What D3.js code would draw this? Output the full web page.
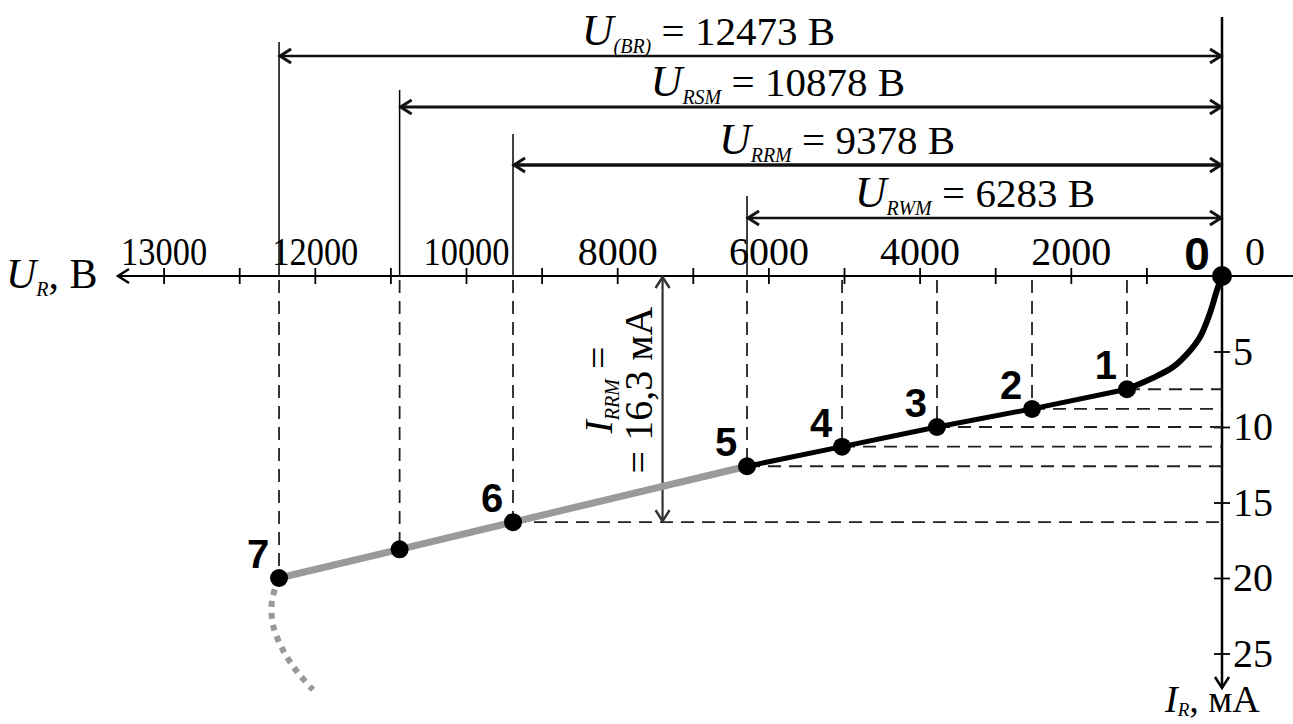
<!DOCTYPE html>
<html>
<head>
	<meta charset="utf-8">
	<title>ВАХ</title>
	<script src="https://d3js.org/d3.v7.min.js"></script>
	<style type="text/css">
		body{ margin: 0; background: #fff; }
	</style>
</head>
<body>
<script type="text/javascript">
	// characteristic points 0..7 (the one at 10878 V has no number)
	var pointU = [0, 1257, 2513, 3770, 5026, 6283, 9378, 10878, 12473]
	var pointI = [0, 7.5, 8.8, 10.0, 11.3, 12.6, 16.3, 18.1, 20.0]
	var pointNames = ["0", "1", "2", "3", "4", "5", "6", "", "7"]

	// knee from 0 to point 1
	var kneeU = [0, 66, 159, 291, 450, 648, 913, 1257]
	var kneeI = [0, 0.93, 2.45, 4.04, 5.1, 6.03, 6.75, 7.5]

	// dotted tail after point 7
	var tailU = [12473, 12566, 12553, 12421, 12235, 12024]
	var tailI = [20.0, 21.46, 23.1, 24.77, 26.2, 27.4]

	var xTicks = [1000,2000,3000,4000,5000,6000,7000,8000,9000,10000,11000,12000,13000,14000]
	var xLabelAt = [2000, 4000, 6000, 8000, 10000, 12000, 14000]
	var xLabels = ["2000", "4000", "6000", "8000", "10000", "12000", "13000"]
	var yTicks = [5, 10, 15, 20, 25]

	var dimNames = ["(BR)", "RSM", "RRM", "RWM"]
	var dimValues = [12473, 10878, 9378, 6283]
	var IRRM = 16.3

	var W = 1293, H = 724
	var x0 = 1222, y0 = 276
	var SERIF = '"Liberation Serif", "Times New Roman", Tinos, "DejaVu Serif", serif'
	var SANS = '"Liberation Sans", Arial, Arimo, sans-serif'

	var x = d3.scaleLinear().domain([0, 14000]).range([x0, x0 - 14 * 75.6])
	var y = d3.scaleLinear().domain([0, 25]).range([y0, y0 + 25 * 15.1])

	var svg = d3.select("body").append("svg").attr('width', W).attr('height', H)

	function serifText(g){
		return g.append('text').style('font-family', SERIF).attr('fill', '#000')
	}

	function chevron(g, tx, ty, dx, dy, color, w){
		// dx,dy = unit direction the arrow points to
		var L = 11, S = 7
		var px = -dy, py = dx
		g.append('path')
			.attr('d', 'M' + (tx - dx*L + px*S) + ',' + (ty - dy*L + py*S) + 'L' + tx + ',' + ty + 'L' + (tx - dx*L - px*S) + ',' + (ty - dy*L - py*S))
			.attr('fill', 'none').attr('stroke', color).attr('stroke-width', w)
	}

	// ---------- axes ----------
	var ax = svg.append('g')
	ax.append('line').attr('x1', 118).attr('x2', W).attr('y1', y0).attr('y2', y0).attr('stroke', '#000').attr('stroke-width', 2)
	chevron(ax, 118, y0, -1, 0, '#000', 2.5)
	ax.append('line').attr('x1', x0).attr('x2', x0).attr('y1', 17).attr('y2', 688).attr('stroke', '#000').attr('stroke-width', 2.5)
	chevron(ax, x0, 688, 0, 1, '#000', 2.5)

	var xTop = svg.append('g').attr('transform', 'translate(0,' + y0 + ')')
		.call(d3.axisTop(x).tickValues(xTicks).tickSize(8).tickPadding(3).tickFormat(function(d){
			var k = xLabelAt.indexOf(d)
			return k < 0 ? '' : xLabels[k]
		}))
	var xBot = svg.append('g').attr('transform', 'translate(0,' + y0 + ')')
		.call(d3.axisBottom(x).tickValues(xTicks).tickSize(8).tickFormat(''))
	var yR = svg.append('g').attr('transform', 'translate(' + x0 + ',0)')
		.call(d3.axisRight(y).tickValues(yTicks).tickSize(8).tickPadding(3))
	var yL = svg.append('g').attr('transform', 'translate(' + x0 + ',0)')
		.call(d3.axisLeft(y).tickValues(yTicks).tickSize(8).tickFormat(''))

	svg.selectAll('.domain').remove()
	svg.selectAll('.tick line').attr('stroke', '#000').attr('stroke-width', 1.8)
	svg.selectAll('.tick text').style('font-family', SERIF).style('font-size', '40px').attr('fill', '#000')
	xTop.selectAll('.tick text').each(function(){
		var t = d3.select(this)
		if(t.text().length > 4) t.attr('textLength', 86).attr('lengthAdjust', 'spacingAndGlyphs')
	})

	// zero label right of the current axis
	serifText(svg).style('font-size', '40px')
		.attr('x', x0 + 33).attr('y', y0 - 11).attr('text-anchor', 'middle').text('0')

	// axis names
	var un = serifText(svg).style('font-size', '42px').attr('x', 6).attr('y', 288)
	un.append('tspan').style('font-style', 'italic').text('U')
	un.append('tspan').style('font-style', 'italic').style('font-size', '20px').attr('dy', 8).text('R')
	un.append('tspan').attr('dy', -8).text(', В')

	var inm = serifText(svg).style('font-size', '38px').attr('x', 1165).attr('y', 712)
	inm.append('tspan').style('font-style', 'italic').text('I')
	inm.append('tspan').style('font-style', 'italic').style('font-size', '19px').attr('dy', 4).text('R')
	inm.append('tspan').attr('dy', -4).text(', мА')

	// ---------- dimension lines at the top ----------
	var dimY = [56, 107, 165, 218]
	var dimTop = [42, 90, 134, 196]
	var dimLabelEnd = [835, 905, 955, 1095]
	var dimW = [2.5, 3, 3.5, 2.5]
	var dg = svg.append('g')
	dimValues.forEach(function(v, i){
		var xv = x(v)
		dg.append('line').attr('x1', xv).attr('x2', xv).attr('y1', dimTop[i]).attr('y2', y0).attr('stroke', '#000').attr('stroke-width', 1.5)
		dg.append('line').attr('x1', xv + 1).attr('x2', x0 - 1).attr('y1', dimY[i]).attr('y2', dimY[i]).attr('stroke', '#111').attr('stroke-width', dimW[i])
		chevron(dg, xv + 1, dimY[i], -1, 0, '#111', 3)
		chevron(dg, x0 - 1, dimY[i], 1, 0, '#111', 3)

		var t = serifText(dg).style('font-size', '41px').attr('x', dimLabelEnd[i]).attr('y', dimY[i] - 11).attr('text-anchor', 'end')
		t.append('tspan').style('font-style', 'italic').style('font-size', '44px').text('U')
		t.append('tspan').style('font-style', 'italic').style('font-size', '20px').attr('dy', 8).text(dimNames[i])
		t.append('tspan').attr('dy', -8).text(' = ' + v + ' В')
	})

	// ---------- dashed guide lines ----------
	var gl = svg.append('g').attr('stroke', '#222').attr('stroke-width', 1.8).attr('stroke-dasharray', '13,8')
	pointU.forEach(function(u, i){
		if(i == 0) return
		gl.append('line').attr('x1', x(u)).attr('x2', x(u)).attr('y1', y0 + 4).attr('y2', y(pointI[i]))
		if(i <= 6) gl.append('line').attr('x1', x(u)).attr('x2', x0).attr('y1', y(pointI[i])).attr('y2', y(pointI[i]))
	})

	// I_RRM arrow
	var ia = svg.append('g')
	var xa = x(7400)
	ia.append('line').attr('x1', xa).attr('x2', xa).attr('y1', y0 + 1).attr('y2', y(IRRM) - 1).attr('stroke', '#333').attr('stroke-width', 2.2)
	chevron(ia, xa, y0 + 1, 0, -1, '#333', 2.5)
	chevron(ia, xa, y(IRRM) - 1, 0, 1, '#333', 2.5)
	var l1 = serifText(ia).style('font-size', '40px').attr('text-anchor', 'middle')
		.attr('transform', 'translate(612,390) rotate(-90)')
	l1.append('tspan').style('font-style', 'italic').text('I')
	l1.append('tspan').style('font-style', 'italic').style('font-size', '20px').attr('dy', 7).text('RRM')
	l1.append('tspan').attr('dy', -7).text(' =')
	serifText(ia).style('font-size', '40px').attr('text-anchor', 'middle')
		.attr('transform', 'translate(652,390) rotate(-90)').text('= ' + String(IRRM).replace('.', ',') + ' мА')

	// ---------- the characteristic ----------
	var line = d3.line().x(function(d){ return x(d[0]) }).y(function(d){ return y(d[1]) })

	var tail = d3.zip(tailU, tailI)
	svg.append('path').datum(tail).attr('d', line.curve(d3.curveCatmullRom))
		.attr('fill', 'none').attr('stroke', '#999').attr('stroke-width', 6).attr('stroke-dasharray', '6,6')

	var grey = d3.zip(pointU.slice(5), pointI.slice(5))
	svg.append('path').datum(grey).attr('d', line.curve(d3.curveLinear))
		.attr('fill', 'none').attr('stroke', '#9a9a9a').attr('stroke-width', 7)

	var knee = d3.zip(kneeU, kneeI)
	svg.append('path').datum(knee).attr('d', line.curve(d3.curveCatmullRom))
		.attr('fill', 'none').attr('stroke', '#000').attr('stroke-width', 6).attr('stroke-linecap', 'round')
	var black = d3.zip(pointU.slice(1, 6), pointI.slice(1, 6))
	svg.append('path').datum(black).attr('d', line.curve(d3.curveLinear))
		.attr('fill', 'none').attr('stroke', '#000').attr('stroke-width', 5)

	svg.selectAll('circle.pt').data(pointU).enter().append('circle').attr('class', 'pt')
		.attr('cx', function(d){ return x(d) }).attr('cy', function(d, i){ return y(pointI[i]) })
		.attr('r', function(d, i){ return i == 0 ? 10 : 9 }).attr('fill', '#000')

	svg.selectAll('text.pn').data(pointNames).enter().append('text').attr('class', 'pn')
		.style('font-family', SANS).style('font-weight', 'bold')
		.style('font-size', function(d, i){ return i == 0 ? '46px' : '40px' })
		.attr('text-anchor', 'middle')
		.attr('x', function(d, i){ return x(pointU[i]) - (i == 0 ? 25 : 21) })
		.attr('y', function(d, i){ return y(pointI[i]) - (i == 0 ? 6 : 10) })
		.text(function(d){ return d })
</script>
</body>
</html>
